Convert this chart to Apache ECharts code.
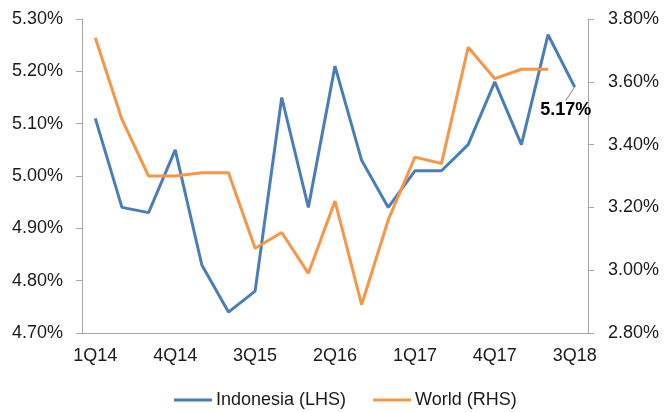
<!DOCTYPE html>
<html><head><meta charset="utf-8">
<script src="https://cdn.jsdelivr.net/npm/echarts@6/dist/echarts.min.js"></script>
<style>html,body{margin:0;padding:0;background:#fff}#c{width:664px;height:412px}</style>
</head><body><div id="c"></div>
<script>
const categories = ['1Q14','2Q14','3Q14','4Q14','1Q15','2Q15','3Q15','4Q15','1Q16','2Q16','3Q16','4Q16','1Q17','2Q17','3Q17','4Q17','1Q18','2Q18','3Q18'];
const indonesia = [5.11,4.94,4.93,5.05,4.83,4.74,4.78,5.15,4.94,5.21,5.03,4.94,5.01,5.01,5.06,5.18,5.06,5.27,5.17];
const world = [3.74,3.48,3.30,3.30,3.31,3.31,3.07,3.12,2.99,3.22,2.89,3.16,3.36,3.34,3.71,3.61,3.64,3.64,null];
const leftTicks = {min:4.7, max:5.3, interval:0.1};
const rightTicks = {min:2.8, max:3.8, interval:0.2};
const seriesNames = ['Indonesia (LHS)','World (RHS)'];

const font = 'Liberation Sans, Arial, sans-serif';
const axisCol = '#a6a6a6';
const txtCol = '#1a1a1a';
const fs = 18;
const last = indonesia.length - 1;
const indoData = indonesia.map((v,i)=> i===last ? {
  value:v, symbol:'circle', symbolSize:1,
  label:{show:true, formatter: p => Number(p.value).toFixed(2)+'%', position:'bottom', distance:13,
    fontFamily:font, fontWeight:'bold', fontSize:18, color:'#000'},
  labelLine:{show:true, lineStyle:{color:'#808080', width:1}}
} : {value:v, symbol:'none'});

const chart = echarts.init(document.getElementById('c'), null, {renderer:'canvas'});
chart.setOption({
  animation:false,
  backgroundColor:'#fff',
  grid:{left:82, right:76, top:19, bottom:79},
  legend:{top:386, left:169, itemWidth:38, itemHeight:3, itemGap:27,
    icon:'rect', textStyle:{fontFamily:font, fontSize:fs, color:txtCol, padding:[0,0,0,-1]},
    data:seriesNames},
  xAxis:{type:'category', data:categories, boundaryGap:true,
    axisLine:{lineStyle:{color:axisCol}}, axisTick:{show:false},
    axisLabel:{interval:2, fontFamily:font, fontSize:fs, color:txtCol, margin:14}},
  yAxis:[
    {type:'value', position:'left', min:leftTicks.min, max:leftTicks.max, interval:leftTicks.interval,
      splitLine:{show:false}, axisLine:{show:true, lineStyle:{color:axisCol}},
      axisTick:{show:true, length:6, lineStyle:{color:axisCol}},
      axisLabel:{formatter:v=>v.toFixed(2)+'%', fontFamily:font, fontSize:fs, color:txtCol, margin:19}},
    {type:'value', position:'right', min:rightTicks.min, max:rightTicks.max, interval:rightTicks.interval,
      splitLine:{show:false}, axisLine:{show:true, lineStyle:{color:axisCol}},
      axisTick:{show:true, length:6, lineStyle:{color:axisCol}},
      axisLabel:{formatter:v=>v.toFixed(2)+'%', fontFamily:font, fontSize:fs, color:txtCol, margin:20}}
  ],
  series:[
    {name:seriesNames[0], type:'line', yAxisIndex:0, data:indoData, symbol:'circle', showSymbol:true,
      labelLayout:{dx:-9, dy:0},
      lineStyle:{width:3, color:'#4a7ebb'}, itemStyle:{color:'#4a7ebb'}},
    {name:seriesNames[1], type:'line', yAxisIndex:1, data:world, symbol:'none',
      lineStyle:{width:3, color:'#f79646'}, itemStyle:{color:'#f79646'}}
  ]
});
</script></body></html>
